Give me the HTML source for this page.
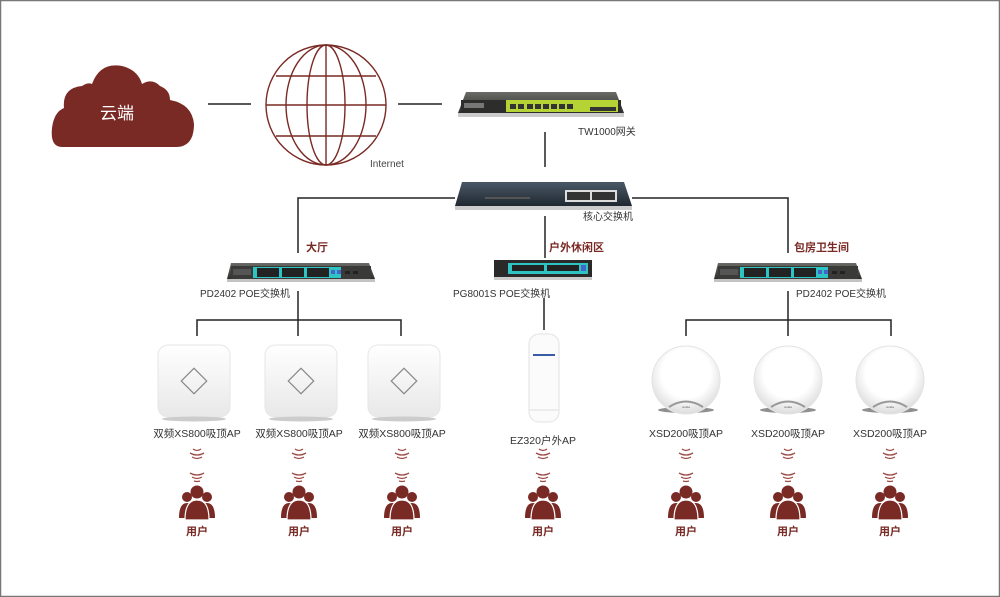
<!DOCTYPE html>
<html><head><meta charset="utf-8"><style>
html,body{margin:0;padding:0;background:#fff}
svg{display:block}
text{font-family:"Liberation Sans","Noto Sans CJK SC",sans-serif}
</style></head><body>
<svg width="1000" height="597" viewBox="0 0 1000 597" xmlns="http://www.w3.org/2000/svg">
<defs>
<linearGradient id="sw" x1="0" y1="0" x2="0" y2="1"><stop offset="0" stop-color="#6a6a66"/><stop offset="1" stop-color="#2e2e2c"/></linearGradient>
<linearGradient id="core" x1="0" y1="0" x2="0" y2="1"><stop offset="0" stop-color="#4a5866"/><stop offset="1" stop-color="#1f2830"/></linearGradient>
<radialGradient id="rap" cx="0.5" cy="0.4" r="0.6"><stop offset="0.6" stop-color="#fff"/><stop offset="1" stop-color="#dcdcdc"/></radialGradient>
<linearGradient id="sq" x1="0" y1="0" x2="0" y2="1"><stop offset="0" stop-color="#fff"/><stop offset="1" stop-color="#e8e8e8"/></linearGradient>
<g id="user">
<circle cx="0" cy="-15" r="6.5" fill="#7a2a25"/>
<circle cx="-10" cy="-10" r="5" fill="#7a2a25"/>
<circle cx="10" cy="-10" r="5" fill="#7a2a25"/>
<path d="M-18 11 Q-18 -4 -10 -4 Q-4 -4 -3 0 L3 0 Q4 -4 10 -4 Q18 -4 18 11 Z" fill="#7a2a25"/>
<path d="M-12 13 Q-12 -7 0 -7 Q12 -7 12 13 Z" fill="#7a2a25" stroke="#fff" stroke-width="1.2"/>
<path d="M-5 -30 Q0 -27 5 -30 M-7 -34 Q0 -30 7 -34 M-3 -26 Q0 -25 3 -26" stroke="#9b4a44" stroke-width="1.3" fill="none"/>
<path d="M-5 -50 Q0 -47 5 -50 M-7 -54 Q0 -50 7 -54 M-4 -58 Q0 -55 4 -58" stroke="#9b4a44" stroke-width="1.3" fill="none"/>
</g>
<g id="sqap">
<rect x="0" y="0" width="72" height="72" rx="10" fill="url(#sq)" stroke="#e6e6e6"/>
<ellipse cx="36" cy="74" rx="32" ry="2.5" fill="#ccc"/>
<rect x="27" y="27" width="18" height="18" fill="none" stroke="#888" stroke-width="1.2" transform="rotate(45 36 36)"/>
</g>
<g id="rdap">
<ellipse cx="0" cy="30" rx="28" ry="3" fill="#444" opacity="0.6"/>
<circle cx="0" cy="0" r="34" fill="url(#rap)" stroke="#e4e4e4"/>
<path d="M-17 27 Q0 16 17 27" fill="none" stroke="#999" stroke-width="2"/>
<text x="0" y="28" font-size="3" text-anchor="middle" fill="#555">tenda</text>
</g>
<g id="poe">
<path d="M4 0 L142 0 L148 16 L0 16 Z" fill="url(#sw)"/>
<rect x="4" y="3" width="140" height="13" fill="#3a3a38"/>
<rect x="26" y="4" width="88" height="11" fill="#2ec4c4"/>
<rect x="6" y="6" width="18" height="6" fill="#555"/>
<g fill="#222"><rect x="30" y="5" width="22" height="9"/><rect x="55" y="5" width="22" height="9"/><rect x="80" y="5" width="22" height="9"/></g>
<rect x="104" y="7" width="4" height="4" fill="#4466cc"/><rect x="110" y="7" width="4" height="4" fill="#4466cc"/>
<rect x="118" y="8" width="5" height="3" fill="#222"/><rect x="126" y="8" width="5" height="3" fill="#222"/>
<rect x="0" y="16" width="148" height="3" fill="#888" opacity="0.5"/>
</g>
</defs>
<rect x="0.5" y="0.5" width="999" height="596" fill="#fff" stroke="#777" stroke-width="1.5"/>

<!-- cloud -->
<path d="M62 147 Q50 147 52 128 Q54 112 64 108 Q62 88 82 86 Q88 82 92 84 Q100 62 122 66 Q138 70 142 84 Q152 78 160 86 Q170 90 170 100 Q192 104 194 124 Q194 147 176 147 Z" fill="#7a2a25"/>
<text x="117" y="119" font-size="17" fill="#fff" text-anchor="middle">云端</text>

<g stroke="#222" stroke-width="1.5">
<line x1="208" y1="104" x2="251" y2="104"/>
<line x1="398" y1="104" x2="442" y2="104"/>
<line x1="545" y1="132" x2="545" y2="167"/>
<line x1="545" y1="216" x2="545" y2="258"/>
<polyline points="455,198 298,198 298,253" fill="none"/>
<polyline points="632,198 788,198 788,253" fill="none"/>
<line x1="298" y1="291" x2="298" y2="320"/>
<polyline points="197,336 197,320 401,320 401,336" fill="none"/>
<line x1="298" y1="320" x2="298" y2="336"/>
<line x1="788" y1="291" x2="788" y2="320"/>
<polyline points="686,336 686,320 891,320 891,336" fill="none"/>
<line x1="788" y1="320" x2="788" y2="336"/>
<line x1="544" y1="298" x2="544" y2="330"/>
</g>

<!-- globe -->
<g fill="none" stroke="#7a2a25" stroke-width="1.4">
<circle cx="326" cy="105" r="60"/>
<ellipse cx="326" cy="105" rx="19" ry="60"/>
<ellipse cx="326" cy="105" rx="40" ry="60"/>
<line x1="326" y1="45" x2="326" y2="165"/>
<line x1="266" y1="105" x2="386" y2="105"/>
<line x1="276" y1="76" x2="376" y2="76"/>
<line x1="276" y1="136" x2="376" y2="136"/>
</g>
<text x="370" y="167" font-size="10" fill="#444">Internet</text>

<!-- TW1000 -->
<path d="M466 92 L616 92 L624 113 L458 113 Z" fill="url(#sw)"/>
<rect x="461" y="100" width="160" height="13" fill="#2d2d2b"/>
<rect x="506" y="100" width="112" height="12" fill="#b5d334"/>
<rect x="464" y="103" width="20" height="5" fill="#777"/>
<g fill="#333"><rect x="510" y="104" width="6" height="5"/><rect x="518" y="104" width="6" height="5"/><rect x="527" y="104" width="6" height="5"/><rect x="535" y="104" width="6" height="5"/><rect x="543" y="104" width="6" height="5"/><rect x="551" y="104" width="6" height="5"/><rect x="559" y="104" width="6" height="5"/><rect x="567" y="104" width="6" height="5"/><rect x="590" y="107" width="26" height="4"/></g>
<rect x="458" y="113" width="166" height="4" fill="#999" opacity="0.5"/>
<text x="578" y="135" font-size="10" fill="#333">TW1000网关</text>

<!-- core switch -->
<path d="M462 182 L624 182 L632 206 L455 206 Z" fill="url(#core)"/>
<rect x="565" y="190" width="52" height="12" fill="#ddd"/>
<g fill="#333"><rect x="567" y="192" width="23" height="8"/><rect x="592" y="192" width="23" height="8"/></g>
<rect x="485" y="197" width="45" height="2" fill="#555"/>
<rect x="455" y="206" width="177" height="4" fill="#999" opacity="0.5"/>
<text x="583" y="220" font-size="10" fill="#333">核心交换机</text>

<!-- labels -->
<text x="306" y="251" font-size="11" fill="#7a2a25" font-weight="bold">大厅</text>
<text x="549" y="251" font-size="11" fill="#7a2a25" font-weight="bold">户外休闲区</text>
<text x="794" y="251" font-size="11" fill="#7a2a25" font-weight="bold">包房卫生间</text>

<use href="#poe" x="227" y="263"/>
<use href="#poe" x="714" y="263"/>
<!-- PG8001S -->
<rect x="494" y="260" width="98" height="17" fill="#2a2a2a"/>
<rect x="508" y="263" width="80" height="11" fill="#2ec4c4"/>
<g fill="#222"><rect x="512" y="265" width="32" height="6"/><rect x="547" y="265" width="32" height="6"/></g>
<rect x="581" y="265" width="5" height="6" fill="#4466cc"/>
<rect x="494" y="277" width="98" height="3" fill="#999" opacity="0.5"/>

<text x="200" y="297" font-size="10" fill="#333">PD2402 POE交换机</text>
<text x="453" y="297" font-size="10" fill="#333">PG8001S POE交换机</text>
<text x="796" y="297" font-size="10" fill="#333">PD2402 POE交换机</text>

<use href="#sqap" x="158" y="345"/>
<use href="#sqap" x="265" y="345"/>
<use href="#sqap" x="368" y="345"/>

<!-- EZ320 -->
<rect x="529" y="334" width="30" height="88" rx="10" fill="#fbfbfb" stroke="#e2e2e2"/>
<rect x="533" y="354" width="22" height="2" fill="#3a5aa8"/>
<line x1="530" y1="410" x2="558" y2="410" stroke="#ddd"/>

<use href="#rdap" x="686" y="380"/>
<use href="#rdap" x="788" y="380"/>
<use href="#rdap" x="890" y="380"/>

<g font-size="10.5" fill="#333" text-anchor="middle">
<text x="197" y="437">双频XS800吸顶AP</text>
<text x="299" y="437">双频XS800吸顶AP</text>
<text x="402" y="437">双频XS800吸顶AP</text>
<text x="543" y="444">EZ320户外AP</text>
<text x="686" y="437">XSD200吸顶AP</text>
<text x="788" y="437">XSD200吸顶AP</text>
<text x="890" y="437">XSD200吸顶AP</text>
</g>

<use href="#user" x="197" y="507"/>
<use href="#user" x="299" y="507"/>
<use href="#user" x="402" y="507"/>
<use href="#user" x="543" y="507"/>
<use href="#user" x="686" y="507"/>
<use href="#user" x="788" y="507"/>
<use href="#user" x="890" y="507"/>

<g font-size="11" fill="#7a2a25" font-weight="bold" text-anchor="middle">
<text x="197" y="535">用户</text><text x="299" y="535">用户</text><text x="402" y="535">用户</text>
<text x="543" y="535">用户</text><text x="686" y="535">用户</text><text x="788" y="535">用户</text><text x="890" y="535">用户</text>
</g>
</svg>
</body></html>
